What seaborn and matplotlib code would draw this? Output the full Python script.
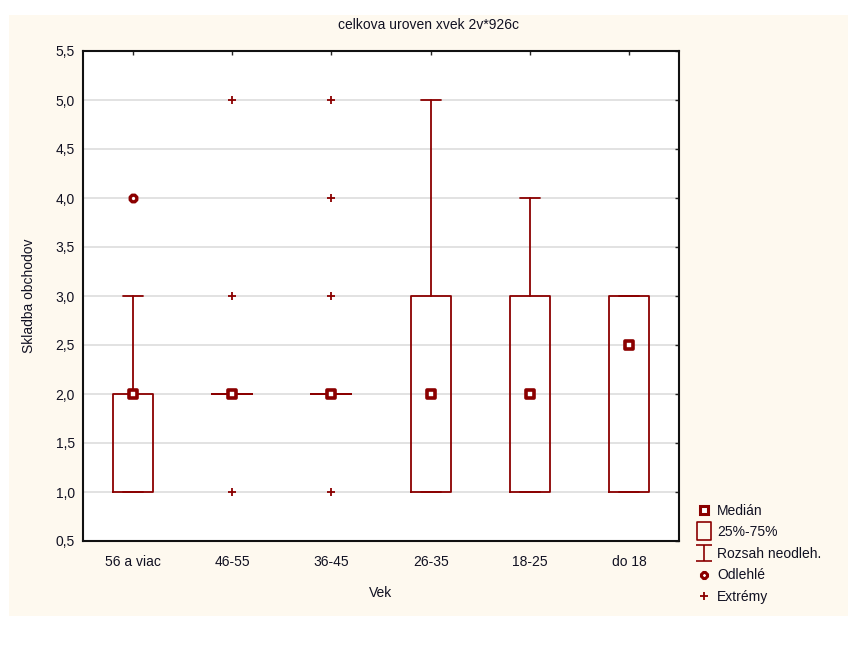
import numpy as np
import pandas as pd
import seaborn as sns
import matplotlib.pyplot as plt
from matplotlib.lines import Line2D
from matplotlib.path import Path
from matplotlib.patches import Rectangle

# Box summary values
categories = ['56 a viac', '46-55', '36-45', '26-35', '18-25', 'do 18']
q1 = [1, 2, 2, 1, 1, 1]
medians = [2, 2, 2, 2, 2, 2.5]
q3 = [2, 2, 2, 3, 3, 3]
whisk_lo = [1, 2, 2, 1, 1, 1]
whisk_hi = [3, 2, 2, 5, 4, 3]

# Outliers and extremes (category, value)
outlier_cat = ['56 a viac']
outlier_val = [4]
extreme_cat = ['46-55', '46-55', '46-55', '36-45', '36-45', '36-45', '36-45']
extreme_val = [1, 3, 5, 1, 3, 4, 5]

y_ticks = [0.5, 1.0, 1.5, 2.0, 2.5, 3.0, 3.5, 4.0, 4.5, 5.0, 5.5]

red = '#8B0000'
txt = '#111122'

sns.set_style('white')
plt.rcParams['font.family'] = ['Liberation Sans', 'DejaVu Sans']

fig = plt.figure(figsize=(8.48, 6.46), dpi=100, facecolor='white')
# cream panel behind the chart
fig.patches.append(Rectangle((9 / 848, 1 - 616 / 646), 839 / 848, 601 / 646,
                             transform=fig.transFigure, facecolor='#FEF9EF',
                             edgecolor='none', zorder=-10))
ax = fig.add_axes([83 / 848, 1 - 541 / 646, 596 / 848, 490 / 646])
ax.set_zorder(1)
ax.set_facecolor('white')

pos = np.arange(len(categories))
stats = []
for i, c in enumerate(categories):
    stats.append(dict(label=c, q1=q1[i], med=medians[i], q3=q3[i],
                      whislo=whisk_lo[i], whishi=whisk_hi[i], fliers=[]))

ax.bxp(stats, positions=pos, widths=0.4, showfliers=False,
       boxprops=dict(color=red, linewidth=1.3),
       whiskerprops=dict(color=red, linewidth=1.3),
       capprops=dict(color=red, linewidth=1.3),
       medianprops=dict(linewidth=0), capwidths=0.2, zorder=3)

med_df = pd.DataFrame({'x': pos, 'y': medians})
sns.scatterplot(data=med_df, x='x', y='y', marker='s', s=36, color='white',
                edgecolor=red, linewidth=2.6, ax=ax, zorder=5)

cat_idx = {c: i for i, c in enumerate(categories)}
out_df = pd.DataFrame({'x': [cat_idx[c] for c in outlier_cat], 'y': outlier_val})
sns.scatterplot(data=out_df, x='x', y='y', marker='8', s=26, color='white',
                edgecolor=red, linewidth=2.4, ax=ax, zorder=5)

ext_df = pd.DataFrame({'x': [cat_idx[c] for c in extreme_cat], 'y': extreme_val})
sns.scatterplot(data=ext_df, x='x', y='y', marker='+', s=28, color=red,
                linewidth=1.3, ax=ax, zorder=5)

ax.set_xlim(-0.5, len(categories) - 0.5)
ax.set_ylim(0.5, 5.5)
ax.set_xticks(pos)
ax.set_xticklabels(categories)
ax.set_yticks(y_ticks)
ax.set_yticklabels([f'{v:.1f}'.replace('.', ',') for v in y_ticks])
ax.yaxis.grid(True, color='#DDDDDD', linewidth=1.2, zorder=0)
ax.set_axisbelow(True)
ax.tick_params(direction='in', length=3, width=1, top=True, right=True,
               labelsize=10, labelcolor=txt, pad=6)
ax.tick_params(axis='x', pad=10)
for s in ax.spines.values():
    s.set_color('#111111')
    s.set_linewidth(1.5)

ax.set_xlabel('Vek', fontsize=10, color=txt, labelpad=12)
ax.set_ylabel('Skladba obchodov', fontsize=10, color=txt, labelpad=14)
fig.text(0.505, 1 - 25 / 646, 'celkova uroven xvek 2v*926c', ha='center',
         va='center', fontsize=10, color=txt)

# legend with STATISTICA-style symbols
ibeam = Path([(-0.5, 0.5), (0.5, 0.5), (0, 0.5), (0, -0.5), (-0.5, -0.5), (0.5, -0.5)],
             [Path.MOVETO, Path.LINETO, Path.MOVETO, Path.LINETO, Path.MOVETO, Path.LINETO])
rect = Path([(-0.38, -0.5), (0.38, -0.5), (0.38, 0.5), (-0.38, 0.5), (-0.38, -0.5)],
            [Path.MOVETO, Path.LINETO, Path.LINETO, Path.LINETO, Path.CLOSEPOLY])
handles = [
    Line2D([], [], ls='none', marker='s', ms=6, mfc='white', mec=red, mew=2.2),
    Line2D([], [], ls='none', marker=rect, ms=13, mfc='none', mec=red, mew=1.2),
    Line2D([], [], ls='none', marker=ibeam, ms=12, mfc='none', mec=red, mew=1.2),
    Line2D([], [], ls='none', marker='8', ms=5, mfc='white', mec=red, mew=2.2),
    Line2D([], [], ls='none', marker='+', ms=6, mec=red, mew=1.3),
]
labels = ['Medián', '25%-75%', 'Rozsah neodleh.', 'Odlehlé', 'Extrémy']
fig.legend(handles, labels, loc='upper left', bbox_to_anchor=(693 / 848, 1 - 498 / 646),
           frameon=False, fontsize=10, handlelength=0.8, handletextpad=0.55,
           labelspacing=0.55, borderaxespad=0, labelcolor=txt)

fig.savefig('out.png', dpi=100, facecolor=fig.get_facecolor())
